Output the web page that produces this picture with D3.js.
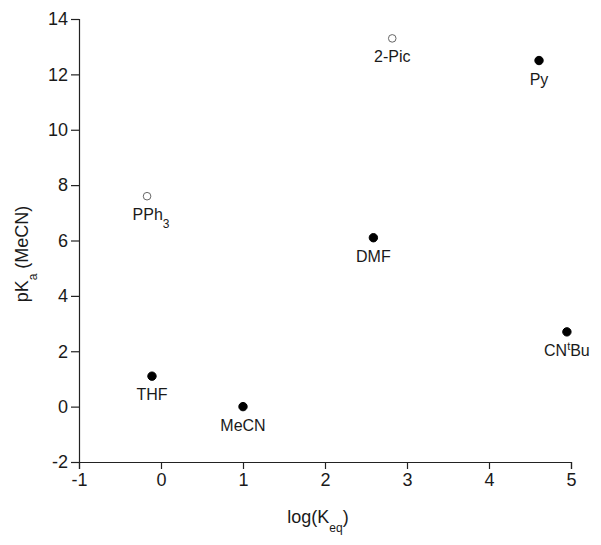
<!DOCTYPE html>
<html lang="en">
<head>
    <meta charset="UTF-8">
    <title>pKa vs log(Keq)</title>
    <style>
        body { margin: 0; background: #fff; }
        text { font-family: "Liberation Sans", Arial, sans-serif; fill: #1a1a1a; }
    </style>
</head>
<body></body>
<script src="https://cdn.jsdelivr.net/npm/d3@7"></script>
<script>
    // data
    const names = ["2-Pic", "Py", "PPh3", "DMF", "CNtBu", "THF", "MeCN"];
    const logK = [2.82, 4.61, -0.17, 2.59, 4.95, -0.11, 1.0];
    const pKa = [13.3, 12.5, 7.6, 6.1, 2.7, 1.1, 0.0];
    const filled = [false, true, false, true, true, true, true];
    const xTicks = [-1, 0, 1, 2, 3, 4, 5];
    const yTicks = [-2, 0, 2, 4, 6, 8, 10, 12, 14];

    let width = 601;
    let height = 545;

    let svg = d3.select("body")
                .append("svg")
                .attr("width", width)
                .attr("height", height);

    const x = d3.scaleLinear().domain([-1, 5]).range([79, 571]);
    const y = d3.scaleLinear().domain([-2, 14]).range([462, 19]);

    const xAxis = svg.append("g")
        .attr("transform", "translate(0," + y(-2) + ")")
        .call(d3.axisBottom(x).tickValues(xTicks).tickSize(7).tickPadding(4).tickFormat(d => String(d)));
    const yAxis = svg.append("g")
        .attr("transform", "translate(" + x(-1) + ",0)")
        .call(d3.axisLeft(y).tickValues(yTicks).tickSize(8).tickPadding(3).tickFormat(d => String(d)));

    [xAxis, yAxis].forEach(a => {
        a.select(".domain").attr("stroke", "#222").attr("stroke-width", 1.2);
        a.selectAll(".tick line").attr("stroke", "#222").attr("stroke-width", 1.2);
        a.selectAll(".tick text").style("font-size", "18px").attr("fill", "#1a1a1a")
            .style("font-family", "Liberation Sans, Arial, sans-serif");
    });

    // axis titles
    let xt = svg.append("text")
        .attr("x", 318).attr("y", 523)
        .attr("text-anchor", "middle")
        .style("font-size", "18px");
    xt.append("tspan").text("log(K");
    xt.append("tspan").attr("dy", 9).style("font-size", "12px").text("eq");
    xt.append("tspan").attr("dy", -9).text(")");

    let yt = svg.append("text")
        .attr("transform", "translate(28,254) rotate(-90)")
        .attr("text-anchor", "middle")
        .style("font-size", "18px");
    yt.append("tspan").text("pK");
    yt.append("tspan").attr("dy", 9).style("font-size", "12px").text("a");
    yt.append("tspan").attr("dy", -9).text(" (MeCN)");

    const pts = names.map((n, i) => ({ name: n, x: logK[i], y: pKa[i], f: filled[i] }));

    svg.selectAll("circle")
        .data(pts)
        .enter()
        .append("circle")
        .attr("cx", d => x(d.x))
        .attr("cy", d => y(d.y))
        .attr("r", d => d.f ? 4.2 : 3.8)
        .style("fill", d => d.f ? "#000" : "#fff")
        .style("stroke", d => d.f ? "#000" : "#666")
        .style("stroke-width", 1);

    // point labels below each marker
    pts.forEach(d => {
        let t = svg.append("text")
            .attr("x", x(d.x) + (d.name === "PPh3" ? 4 : 0))
            .attr("y", y(d.y) + 24)
            .attr("text-anchor", "middle")
            .style("font-size", "16px");
        if (d.name === "PPh3") {
            t.append("tspan").text("PPh");
            t.append("tspan").attr("dy", 8).style("font-size", "12px").text("3");
        } else if (d.name === "CNtBu") {
            t.append("tspan").text("CN");
            t.append("tspan").attr("dy", -6).style("font-size", "11px").text("t");
            t.append("tspan").attr("dy", 6).text("Bu");
        } else {
            t.text(d.name);
        }
    });
</script>
</html>
